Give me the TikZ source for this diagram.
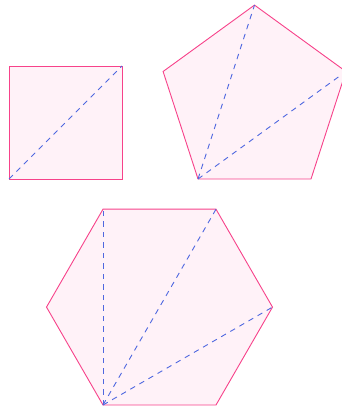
\documentclass[tikz,border=0pt]{standalone}
\definecolor{edgepink}{HTML}{F7428A}
\definecolor{fillpink}{HTML}{FFF2F8}
\definecolor{diagblue}{HTML}{4F68E0}
\tikzset{
  poly/.style={draw=edgepink, fill=fillpink, line width=0.9pt, line join=miter},
  diag/.style={draw=diagblue, dash pattern=on 5.5pt off 5pt, line width=0.9pt}
}
\begin{document}
\begin{tikzpicture}[x=1pt,y=-1pt]
\useasboundingbox (0,0) rectangle (341,411);
% square
\coordinate (s1) at (9,179);
\coordinate (s2) at (122,179);
\coordinate (s3) at (122,66);
\coordinate (s4) at (9,66);
\draw[poly] (s1) -- (s2) -- (s3) -- (s4) -- cycle;
\draw[diag] (s1) -- (s3);
% pentagon
\coordinate (p1) at (198,179);
\coordinate (p2) at (311,179);
\coordinate (p3) at (345.9,71.5);
\coordinate (p4) at (254.5,5.1);
\coordinate (p5) at (163.1,71.5);
\draw[poly] (p1) -- (p2) -- (p3) -- (p4) -- (p5) -- cycle;
\draw[diag] (p1) -- (p3);
\draw[diag] (p1) -- (p4);
% hexagon
\coordinate (h1) at (103,405);
\coordinate (h2) at (216,405);
\coordinate (h3) at (272.5,307.1);
\coordinate (h4) at (216,209.2);
\coordinate (h5) at (103,209.2);
\coordinate (h6) at (46.5,307.1);
\draw[poly] (h1) -- (h2) -- (h3) -- (h4) -- (h5) -- (h6) -- cycle;
\draw[diag] (h1) -- (h3);
\draw[diag] (h1) -- (h4);
\draw[diag] (h1) -- (h5);
\end{tikzpicture}
\end{document}
